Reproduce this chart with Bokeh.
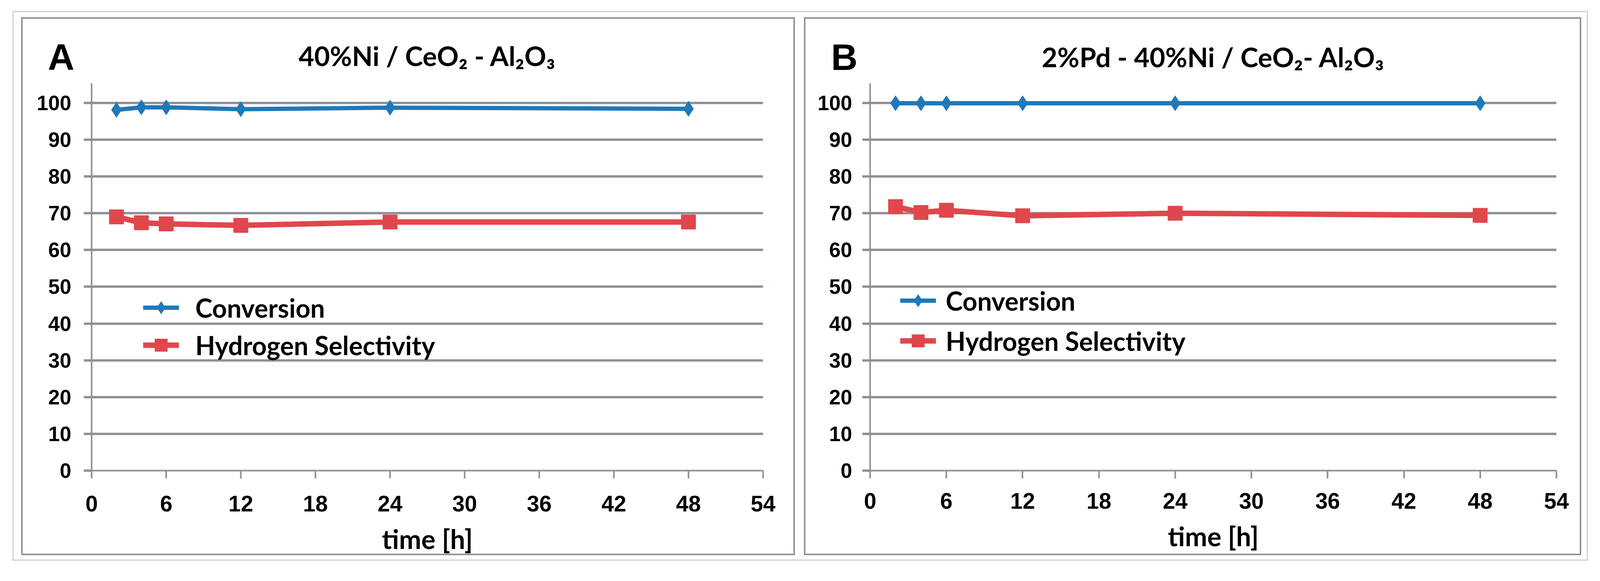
from bokeh.plotting import figure
from bokeh.layouts import row
from bokeh.models import Label, Legend, LegendItem, FixedTicker, Range1d
from bokeh.embed import file_html
from bokeh.resources import INLINE

# values
time_h = [2, 4, 6, 12, 24, 48]
conv_a = [98.1, 98.8, 98.8, 98.3, 98.7, 98.4]
hsel_a = [69.0, 67.4, 67.1, 66.7, 67.6, 67.6]
conv_b = [99.9, 99.9, 99.9, 99.9, 99.9, 99.9]
hsel_b = [71.8, 70.2, 70.8, 69.3, 70.0, 69.4]

x_ticks = [0, 6, 12, 18, 24, 30, 36, 42, 48, 54]
y_ticks = [0, 10, 20, 30, 40, 50, 60, 70, 80, 90, 100]

title_a = "40%Ni / CeO\u2082 - Al\u2082O\u2083"
title_b = "2%Pd - 40%Ni / CeO\u2082- Al\u2082O\u2083"

BLUE = "#1f78b8"
RED = "#e0474c"
GRID = "#8c9096"


def make_panel(letter, title, conv, hsel, w, h, bl, br, bt, bb,
               title_off, title_standoff, y_standoff, x_standoff,
               leg_loc, leg_spacing, leg_standoff, letter_x, letter_y):
    # w, h include the 4px css border
    p = figure(width=w, height=h, sizing_mode="fixed",
               x_range=Range1d(0, 54), y_range=Range1d(0, 105.3),
               min_border_left=bl, min_border_right=br,
               min_border_top=bt, min_border_bottom=bb,
               output_backend="svg", toolbar_location=None,
               styles={"border": "4px solid #8f9399"})
    p.background_fill_color = "white"
    p.border_fill_color = "white"
    p.outline_line_color = None

    p.title.text = title
    p.title.align = "center"
    p.title.offset = title_off
    p.title.standoff = title_standoff
    p.title.text_font = "Lato"
    p.title.text_font_size = "69px"
    p.title.text_font_style = "bold"
    p.title.text_color = "black"

    p.xaxis.ticker = FixedTicker(ticks=x_ticks)
    p.yaxis.ticker = FixedTicker(ticks=y_ticks)
    for ax in (p.xaxis, p.yaxis):
        ax.axis_line_color = GRID
        ax.axis_line_width = 4
        ax.major_tick_line_color = GRID
        ax.major_tick_line_width = 4
        ax.major_tick_in = 0
        ax.major_tick_out = 20
        ax.minor_tick_line_color = None
        ax.major_label_text_font = "Liberation Sans"
        ax.major_label_text_font_style = "bold"
        ax.major_label_text_color = "black"
    p.yaxis.major_tick_line_width = 6
    p.yaxis.major_label_text_font_size = "53px"
    p.xaxis.major_label_text_font_size = "57px"
    p.yaxis.major_label_standoff = y_standoff
    p.xaxis.major_label_standoff = x_standoff
    p.xaxis.axis_label = "time [h]"
    p.xaxis.axis_label_text_font = "Lato"
    p.xaxis.axis_label_text_font_size = "68px"
    p.xaxis.axis_label_text_font_style = "bold"
    p.xaxis.axis_label_text_color = "black"
    p.xaxis.axis_label_text_line_height = 1.0
    p.xaxis.axis_label_standoff = 26

    p.xgrid.visible = False
    p.ygrid.grid_line_color = GRID
    p.ygrid.grid_line_width = 6

    l1 = p.line(time_h, conv, line_color=BLUE, line_width=11)
    s1 = p.scatter(time_h, conv, marker="diamond", size=39,
                   fill_color=BLUE, line_color=BLUE)
    l2 = p.line(time_h, hsel, line_color=RED, line_width=14)
    s2 = p.scatter(time_h, hsel, marker="square", size=37,
                   fill_color=RED, line_color=RED)

    legend = Legend(items=[LegendItem(label="Conversion", renderers=[l1, s1]),
                           LegendItem(label="Hydrogen Selectivity", renderers=[l2, s2])],
                    location=leg_loc)
    legend.glyph_width = 92
    legend.glyph_height = 80
    legend.label_height = 80
    legend.spacing = leg_spacing
    legend.label_standoff = leg_standoff
    legend.padding = 0
    legend.margin = 0
    legend.border_line_color = None
    legend.background_fill_alpha = 0
    legend.label_text_font = "Lato"
    legend.label_text_font_size = "66px"
    legend.label_text_font_style = "bold"
    legend.label_text_color = "black"
    p.add_layout(legend)

    # panel letter in canvas pixels; kept in a side panel so it isn't clipped
    p.add_layout(Label(x=letter_x, y=letter_y, x_units="canvas", y_units="canvas",
                       text=letter, text_font="Liberation Sans",
                       text_font_size="94px", text_font_style="bold",
                       text_color="black", text_baseline="middle"), "right")
    return p


p1 = make_panel("A", title_a, conv_a, hsel_a, 1981, 1377, 176, 86, 165, 221,
                0, 60, 32, 44, (132, 281), 16, 42, 60, 94)
p2 = make_panel("B", title_b, conv_b, hsel_b, 1990, 1377, 165, 63, 158, 210,
                141, 53, 26, 37, (77, 292), 23, 25, 61, 94)

layout = row(p1, p2, spacing=23, margin=(28, 0, 0, 32), sizing_mode="fixed",
             styles={"border": "3px solid #d0d0d0",
                     "padding": "13px 14px 11px 19px"})

open("out.html", "w").write(file_html(layout, INLINE))
